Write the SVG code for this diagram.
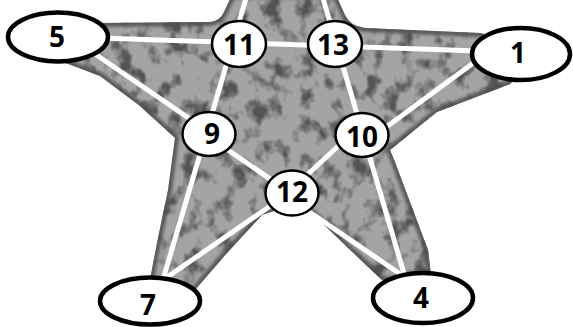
<svg xmlns="http://www.w3.org/2000/svg" width="573" height="327" viewBox="0 0 573 327">
<style>
.ln{stroke:#fff;stroke-width:5;fill:none;stroke-linecap:butt}
.sm{fill:#fff;stroke:#000;stroke-width:2.5}
.bg{fill:#fff;stroke:#000;stroke-width:4.5}
.t{font-family:"Open Sans","DejaVu Sans",sans-serif;font-weight:700;font-size:28px;text-anchor:middle;fill:#000}
</style>
<defs>
<path id="starp" d="M232,-5 L224,12 Q220,21 210,22 L100,23 L45,30 L58,60 L100,76 L140,106 L175,138 L168,190 L157,243 L148,290 L195,290 L227,253 L262,215 L292,205 L312,213 L348,248 L382,280 L432,282 L428,250 L413,210 L395,162 L390,150 L437,112 L510,84 L545,50 L480,33 L365,28 Q350,26 345,15 L336,-5 Z"/>
<clipPath id="clip"><use href="#starp"/></clipPath>
<filter id="noise" x="0" y="0" width="573" height="327" filterUnits="userSpaceOnUse" color-interpolation-filters="sRGB">
<feTurbulence type="fractalNoise" baseFrequency="0.06 0.05" numOctaves="3" seed="7"/>
<feColorMatrix type="matrix" values="0 0 0 0 0.33  0 0 0 0 0.33  0 0 0 0 0.33  4 0 0 0 -1.95"/>
</filter>
<filter id="blur" x="-10%" y="-10%" width="120%" height="120%"><feGaussianBlur stdDeviation="1.5"/></filter>
</defs>
<g id="star">
<use href="#starp" fill="#a4a4a4"/>
<g clip-path="url(#clip)">
<rect x="0" y="0" width="573" height="327" filter="url(#noise)"/>
<use href="#starp" fill="none" stroke="#505050" stroke-width="8" filter="url(#blur)" opacity="0.85"/>
</g>
</g>
<g id="connectors">
<line class="ln" x1="100" y1="38" x2="478" y2="51"/>
<line class="ln" x1="247" y1="-5" x2="162" y2="283"/>
<line class="ln" x1="322" y1="-5" x2="405" y2="277"/>
<line class="ln" x1="95" y1="54" x2="209" y2="132"/>
<line class="ln" x1="209" y1="137" x2="292" y2="194"/>
<line class="ln" x1="292" y1="200" x2="403" y2="276"/>
<line class="ln" x1="480" y1="58" x2="362" y2="145"/>
<line class="ln" x1="362" y1="124" x2="292" y2="189"/>
<line class="ln" x1="292" y1="191" x2="163" y2="280"/>
</g>
<g id="n5"><ellipse class="bg" cx="58" cy="37" rx="50" ry="24.5"/><text class="t" x="57" y="47">5</text></g>
<g id="n11"><ellipse class="sm" cx="239" cy="44" rx="27" ry="23"/><text class="t" x="239" y="55">11</text></g>
<g id="n13"><ellipse class="sm" cx="335" cy="44" rx="27" ry="23"/><text class="t" x="333" y="55">13</text></g>
<g id="n1"><ellipse class="bg" cx="521" cy="54" rx="49" ry="26"/><text class="t" x="518" y="63">1</text></g>
<g id="n9"><ellipse class="sm" cx="209" cy="134" rx="26.5" ry="22"/><text class="t" x="212" y="144">9</text></g>
<g id="n10"><ellipse class="sm" cx="362" cy="135" rx="26.5" ry="22"/><text class="t" x="362" y="147">10</text></g>
<g id="n12"><ellipse class="sm" cx="292" cy="193" rx="26.5" ry="22.5"/><text class="t" x="292" y="202">12</text></g>
<g id="n7"><ellipse class="bg" cx="150" cy="301" rx="50" ry="23.5"/><text class="t" x="148" y="315">7</text></g>
<g id="n4"><ellipse class="bg" cx="423" cy="298" rx="50" ry="25"/><text class="t" x="421" y="308">4</text></g>
</svg>
